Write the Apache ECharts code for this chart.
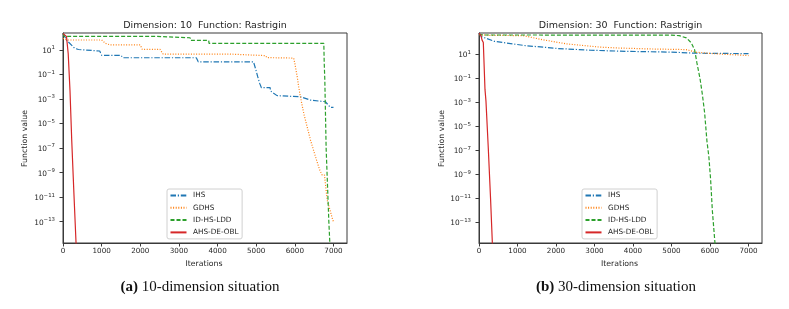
<!DOCTYPE html>
<html><head><meta charset="utf-8">
<script src="https://cdn.jsdelivr.net/npm/echarts@6/dist/echarts.min.js"></script>
<style>html,body{margin:0;padding:0;background:#fff}#c{width:789px;height:309px}</style>
</head><body><div id="c"></div>
<script>
// ---- labels ----
const seriesNames = ['IHS', 'GDHS', 'ID-HS-LDD', 'AHS-DE-OBL'];
const titles = ['Dimension: 10  Function: Rastrigin', 'Dimension: 30  Function: Rastrigin'];
const captionTags = ['(a)', '(b)'];
const captionTexts = [' 10-dimension situation', ' 30-dimension situation'];
const xName = 'Iterations';
const yName = 'Function value';
const xTicks = [0, 1000, 2000, 3000, 4000, 5000, 6000, 7000];
const yTicks = [1e-13, 1e-11, 1e-9, 1e-7, 1e-5, 1e-3, 1e-1, 1e1];

// ---- Dimension 10 ----
const ihs10It  = [0, 100, 150, 300, 400, 450, 950, 1000, 1500, 1550, 3450, 3500, 4930, 4980, 5040, 5090, 5135, 5360, 5370, 5540, 6140, 6400, 6790, 6800, 6920, 7000];
const ihs10Val = [2.3e2, 6e1, 4.5e1, 1.4e1, 1.1e1, 8.3, 8.3, 3.7, 3.7, 2.35, 2.35, 1.1, 1.1, 3.2e-1, 6.6e-2, 1.9e-2, 8.5e-3, 8.5e-3, 4.6e-3, 1.9e-3, 1.55e-3, 8.3e-4, 6e-4, 6e-4, 2.1e-4, 2.1e-4];
const gdhs10It  = [0, 100, 1000, 1100, 1220, 2000, 2050, 2510, 2590, 4290, 4300, 5240, 5280, 5970, 6000, 6060, 6100, 6127, 6230, 6404, 6533, 6645, 6707, 6767, 6837, 6923, 6982, 7000];
const gdhs10Val = [9e1, 6.6e1, 6.6e1, 3.5e1, 2.6e1, 2.6e1, 1.15e1, 1.15e1, 4.7, 4.7, 3.5, 3.5, 2.4, 2.2, 8e-1, 7e-2, 1e-2, 2.9e-3, 6.9e-5, 4.6e-7, 2e-8, 1.6e-9, 6.3e-10, 6.3e-10, 5.9e-12, 6.3e-13, 1.35e-13, 1e-13];
const idhs10It  = [0, 30, 2440, 2450, 3290, 3300, 3770, 3780, 6750, 6760, 6776, 6810, 6880, 6905, 6915];
const idhs10Val = [2.2e2, 1.3e2, 1.3e2, 1.0e2, 1.0e2, 6.2e1, 6.2e1, 3.5e1, 3.5e1, 1, 3.5e-2, 1e-7, 1e-13, 2e-15, 1e-16];
const ahs10It  = [0, 90, 135, 181, 225, 280, 337, 360];
const ahs10Val = [2.2e2, 1.3e2, 5, 5e-3, 5e-7, 3e-11, 2e-15, 1e-16];

// ---- Dimension 30 ----
const ihs30It  = [0, 60, 400, 1200, 2050, 2900, 3800, 5000, 5600, 7000];
const ihs30Val = [6.3e2, 3.2e2, 1.26e2, 5.6e1, 3.2e1, 2.3e1, 1.86e1, 1.6e1, 1.3e1, 1.2e1];
const gdhs30It  = [0, 300, 1150, 1650, 2270, 3140, 3650, 4430, 5380, 5650, 6160, 7000];
const gdhs30Val = [4.6e2, 4e2, 3.8e2, 1.74e2, 7.8e1, 4.2e1, 3.5e1, 2.95e1, 2.6e1, 1.55e1, 1.15e1, 8.3];
const idhs30It  = [0, 100, 5000, 5200, 5385, 5515, 5600, 5660, 5740, 5800, 5860, 5920, 5970, 6015, 6060, 6130, 6150];
const idhs30Val = [5e2, 4.3e2, 4.2e2, 3.8e2, 2.5e2, 9.3e1, 2.5e1, 2, 1e-1, 5e-3, 1.4e-4, 6e-7, 3e-8, 4e-10, 1e-12, 1.6e-15, 1e-16];
const ahs30It  = [0, 50, 80, 112, 155, 181, 241, 300, 345, 360];
const ahs30Val = [6e2, 4e2, 1.6e2, 1e2, 1.3e-2, 1.3e-3, 1.6e-7, 1e-11, 2.5e-15, 1e-16];

// ---- axis ranges ----
const xMax = 7350;
const yMin = [1.8e-15, 1.9e-15];
const yMax = [2.45e2, 6.3e2];

const colors = ['#1f77b4', '#ff7f0e', '#2ca02c', '#d62728'];
const dashes = [[5.5, 1.8, 1.2, 1.8], [1, 1.6], [4, 2], 'solid'];
const FONT = 'DejaVu Sans';
const TXT = '#262626';
const AX = '#3a3a3a';

function pairs(xs, ys) { return xs.map((x, i) => [x, ys[i]]); }
const data = [
  [pairs(ihs10It, ihs10Val), pairs(gdhs10It, gdhs10Val), pairs(idhs10It, idhs10Val), pairs(ahs10It, ahs10Val)],
  [pairs(ihs30It, ihs30Val), pairs(gdhs30It, gdhs30Val), pairs(idhs30It, idhs30Val), pairs(ahs30It, ahs30Val)]
];

function supLabel(v) {
  const e = Math.round(Math.log10(v));
  return '{b|10}{e|' + (e < 0 ? '\u2212' : '') + Math.abs(e) + '}';
}

const grids = [
  { left: 63, top: 33, width: 284, height: 210 },
  { left: 479, top: 33, width: 283, height: 210 }
];
const centers = [205, 620.5];
const captionX = [200, 616];
const yNameX = [25, 441.7];
const legendLeft = [167, 582];

const option = {
  backgroundColor: '#fff',
  animation: false,
  grid: grids.map(g => Object.assign({ show: true, borderColor: AX, borderWidth: 1, backgroundColor: 'transparent' }, g)),
  xAxis: [0, 1].map(i => ({
    type: 'value', gridIndex: i, min: 0, max: xMax,
    splitLine: { show: false },
    axisLine: { show: true, lineStyle: { color: AX, width: 1 } },
    axisTick: { show: true, length: 3.5, lineStyle: { color: AX }, customValues: xTicks },
    axisLabel: { customValues: xTicks, margin: 5, fontFamily: FONT, fontSize: 7.2, color: TXT, formatter: v => String(v) }
  })),
  yAxis: [0, 1].map(i => ({
    type: 'log', gridIndex: i, min: yMin[i], max: yMax[i], logBase: 10,
    splitLine: { show: false }, minorTick: { show: false },
    axisLine: { show: true, lineStyle: { color: AX, width: 1 } },
    axisTick: { show: true, length: 3.5, lineStyle: { color: AX }, customValues: yTicks },
    axisLabel: {
      customValues: yTicks, margin: 8, formatter: supLabel,
      rich: {
        b: { fontFamily: FONT, fontSize: 7.4, color: TXT, verticalAlign: 'bottom' },
        e: { fontFamily: FONT, fontSize: 5.4, color: TXT, verticalAlign: 'bottom', padding: [0, 0, 4, 0] }
      }
    }
  })),
  legend: [0, 1].map(i => ({
    data: seriesNames, orient: 'vertical', left: legendLeft[i], top: 189,
    padding: [2.5, 3.5, 2.5, 2.5], itemWidth: 16, itemHeight: 8, itemGap: 4.3,
    backgroundColor: '#fff', borderColor: '#d0d0d0', borderWidth: 1, borderRadius: 2,
    itemStyle: { opacity: 0 },
    textStyle: { fontFamily: FONT, fontSize: 7.3, color: TXT, lineHeight: 8, padding: [0, 0, 0, 1.5] },
    selectedMode: false
  })),
  series: [],
  graphic: []
};

[0, 1].forEach(g => {
  seriesNames.forEach((name, k) => {
    option.series.push({
      name: name, type: 'line', xAxisIndex: g, yAxisIndex: g,
      data: data[g][k], symbol: 'none', showSymbol: false, clip: true,
      lineStyle: { color: colors[k], width: 1.2, type: dashes[k] },
      itemStyle: { color: colors[k] },
      z: 2 + (k === 3 ? 1 : 0)
    });
  });
  option.graphic.push(
    { type: 'text', x: centers[g], y: 25.7, style: { text: titles[g], font: '9.5px "' + FONT + '"', fill: TXT, align: 'center', verticalAlign: 'middle' } },
    { type: 'text', x: centers[g] - 1, y: 264, style: { text: xName, font: '7.8px "' + FONT + '"', fill: TXT, align: 'center', verticalAlign: 'middle' } },
    { type: 'text', x: yNameX[g], y: 138.5, rotation: Math.PI / 2, style: { text: yName, font: '7.8px "' + FONT + '"', fill: TXT, align: 'center', verticalAlign: 'middle' } },
    { type: 'text', x: captionX[g], y: 286.7, style: {
        text: '{t|' + captionTags[g] + '}{n|' + captionTexts[g] + '}',
        align: 'center', verticalAlign: 'middle',
        rich: {
          t: { fontFamily: 'Liberation Serif', fontSize: 15, fontWeight: 'bold', fill: '#111' },
          n: { fontFamily: 'Liberation Serif', fontSize: 15, fill: '#111' }
        }
    } }
  );
});

const chart = echarts.init(document.getElementById('c'), null, { renderer: 'canvas' });
chart.setOption(option);
</script>
</body></html>
